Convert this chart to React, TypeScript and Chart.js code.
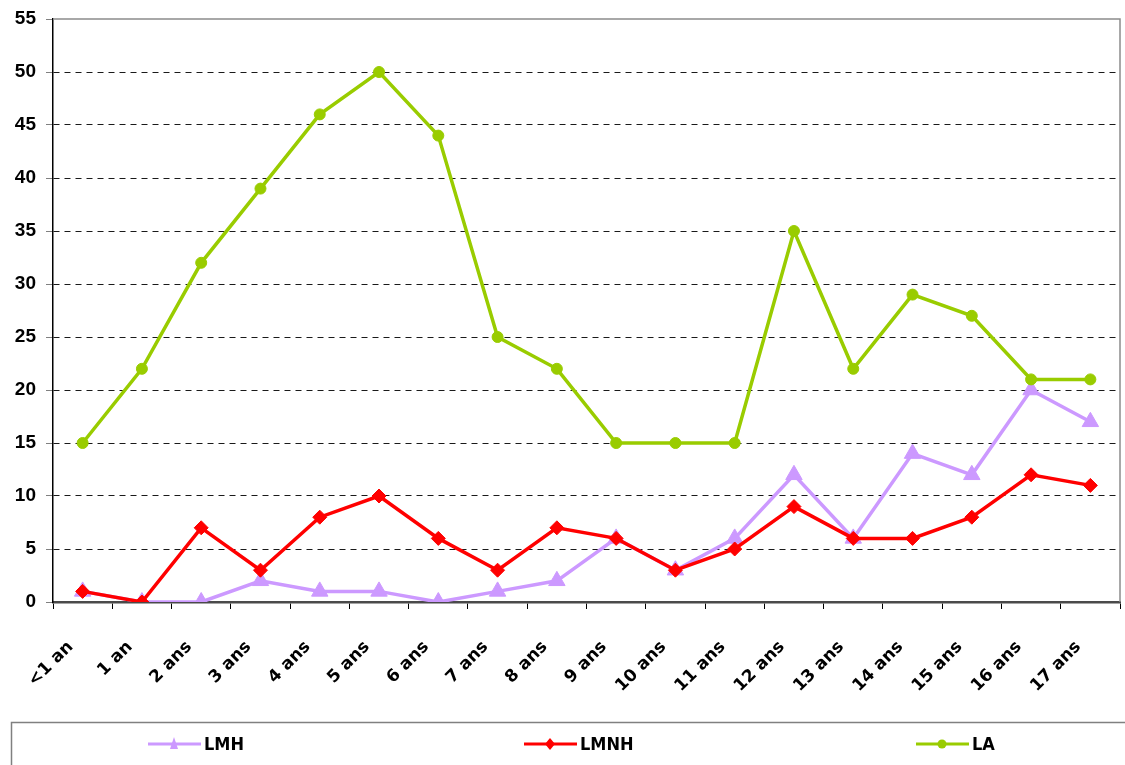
import React, { useEffect, useRef } from "react";
import { Chart, registerables } from "chart.js";

Chart.register(...registerables);

const categories = ["<1 an", "1 an", "2 ans", "3 ans", "4 ans", "5 ans", "6 ans", "7 ans", "8 ans", "9 ans", "10 ans", "11 ans", "12 ans", "13 ans", "14 ans", "15 ans", "16 ans", "17 ans"];
const lmh = [1, 0, 0, 2, 1, 1, 0, 1, 2, 6, 3, 6, 12, 6, 14, 12, 20, 17];
const lmnh = [1, 0, 7, 3, 8, 10, 6, 3, 7, 6, 3, 5, 9, 6, 6, 8, 12, 11];
const la = [15, 22, 32, 39, 46, 50, 44, 25, 22, 15, 15, 15, 35, 22, 29, 27, 21, 21];
const yMin = 0;
const yMax = 55;
const yStep = 5;

const COL_LMH = "#cc99ff";
const COL_LMNH = "#ff0000";
const COL_LA = "#99cc00";

const legendItems = [
  { label: "LMH", color: COL_LMH, shape: "triangle", lx: 148, tx: 204 },
  { label: "LMNH", color: COL_LMNH, shape: "diamond", lx: 524, tx: 580 },
  { label: "LA", color: COL_LA, shape: "circle", lx: 916, tx: 972 },
];

const frameAndLegend = {
  id: "frameAndLegend",
  afterDatasetsDraw(chart: any) {
    const { ctx, chartArea } = chart;
    ctx.save();
    ctx.strokeStyle = "#8c8c8c";
    ctx.lineWidth = 1.5;
    ctx.beginPath();
    ctx.moveTo(chartArea.left, chartArea.top);
    ctx.lineTo(chartArea.right, chartArea.top);
    ctx.lineTo(chartArea.right, chartArea.bottom);
    ctx.stroke();
    ctx.restore();
  },
  afterDraw(chart: any) {
    const { ctx } = chart;
    ctx.save();
    ctx.strokeStyle = "#808080";
    ctx.lineWidth = 1.5;
    ctx.strokeRect(11.5, 722.5, 1125, 60);
    const cy = 744;
    for (const it of legendItems) {
      ctx.strokeStyle = it.color;
      ctx.fillStyle = it.color;
      ctx.lineWidth = 3;
      ctx.beginPath();
      ctx.moveTo(it.lx, cy);
      ctx.lineTo(it.lx + 53, cy);
      ctx.stroke();
      const mx = it.lx + 26;
      ctx.beginPath();
      if (it.shape === "triangle") {
        ctx.moveTo(mx, cy - 7);
        ctx.lineTo(mx + 4, cy + 5);
        ctx.lineTo(mx - 4, cy + 5);
        ctx.closePath();
      } else if (it.shape === "diamond") {
        ctx.moveTo(mx, cy - 6);
        ctx.lineTo(mx + 5, cy);
        ctx.lineTo(mx, cy + 6);
        ctx.lineTo(mx - 5, cy);
        ctx.closePath();
      } else {
        ctx.arc(mx, cy, 4.5, 0, Math.PI * 2);
      }
      ctx.fill();
      ctx.fillStyle = "#000";
      ctx.font = "bold 18px 'Liberation Sans Narrow', 'DejaVu Sans Condensed', sans-serif";
      ctx.textAlign = "left";
      ctx.textBaseline = "middle";
      ctx.fillText(it.label, it.tx, cy + 1);
    }
    ctx.restore();
  },
};

export default function App() {
  const ref = useRef<HTMLCanvasElement>(null);
  useEffect(() => {
    document.body.style.margin = "0";
    const chart = new Chart(ref.current as HTMLCanvasElement, {
      type: "line",
      data: {
        labels: categories,
        datasets: [
          {
            label: "LMH",
            data: lmh,
            borderColor: COL_LMH,
            backgroundColor: COL_LMH,
            borderWidth: 3.5,
            pointStyle: "triangle",
            pointRadius: 9.5,
            pointBorderWidth: 1,
            order: 2,
          },
          {
            label: "LMNH",
            data: lmnh,
            borderColor: COL_LMNH,
            backgroundColor: COL_LMNH,
            borderWidth: 3.5,
            pointStyle: "rectRot",
            pointRadius: 7,
            pointBorderWidth: 1,
            order: 1,
          },
          {
            label: "LA",
            data: la,
            borderColor: COL_LA,
            backgroundColor: COL_LA,
            borderWidth: 3.5,
            pointStyle: "circle",
            pointRadius: 5.5,
            pointBorderWidth: 1,
            order: 0,
          },
        ],
      },
      options: {
        animation: false,
        responsive: true,
        maintainAspectRatio: false,
        layout: { autoPadding: false, padding: { top: 19, right: 5, bottom: 43, left: 0 } },
        plugins: { legend: { display: false }, tooltip: { enabled: false } },
        scales: {
          x: {
            offset: true,
            grid: { offset: true, drawOnChartArea: false, drawTicks: true, tickLength: 7, tickColor: "#000", tickWidth: 1 },
            border: { display: true, color: "#4a4a4a", width: 2.5 },
            ticks: {
              minRotation: 45,
              maxRotation: 45,
              autoSkip: false,
              padding: 28,
              labelOffset: -12,
              color: "#000",
              font: { family: "'DejaVu Sans', sans-serif", weight: "bold", size: 17 },
            },
            afterFit(scale: any) {
              scale.height = 120;
              scale.paddingLeft = 0;
              scale.paddingRight = 0;
            },
          },
          y: {
            min: yMin,
            max: yMax,
            grid: {
              color: (c: any) => (c.tick && (c.tick.value === yMin || c.tick.value === yMax) ? "rgba(0,0,0,0)" : "#1a1a1a"),
              lineWidth: 1,
              drawTicks: true,
              tickLength: 7,
              tickColor: "#808080",
            },
            border: { display: true, color: "#000", width: 1.5, dash: [6, 5] },
            ticks: {
              stepSize: yStep,
              padding: 10,
              color: "#000",
              font: { family: "'Liberation Sans', Arial, sans-serif", weight: "bold", size: 19 },
            },
            afterFit(scale: any) {
              scale.width = 53;
              scale.paddingTop = 0;
              scale.paddingBottom = 0;
            },
          },
        },
      },
      plugins: [frameAndLegend],
    } as any);
    return () => chart.destroy();
  }, []);
  return (
    <div style={{ position: "fixed", left: 0, top: 0, width: 1125, height: 765, background: "#fff" }}>
      <canvas ref={ref} />
    </div>
  );
}
